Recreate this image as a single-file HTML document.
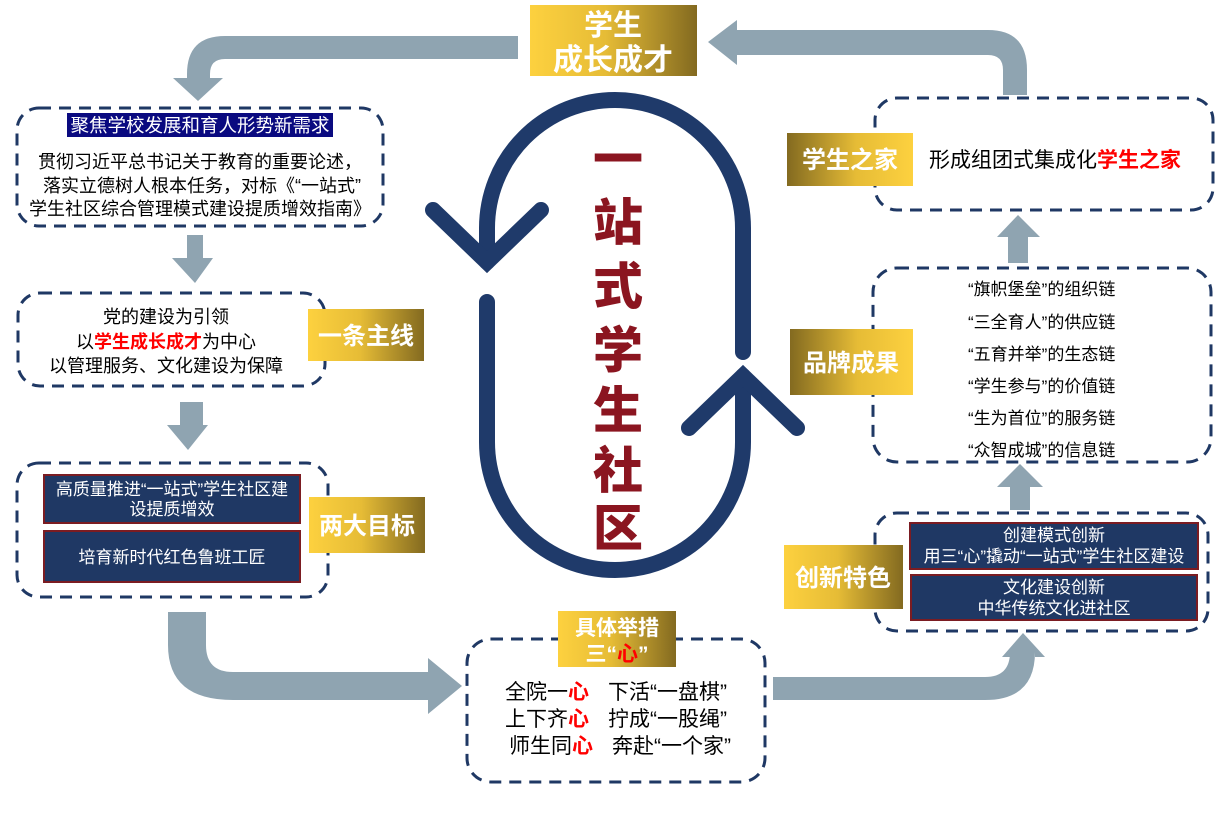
<!DOCTYPE html>
<html><head><meta charset="utf-8"><style>
html,body{margin:0;padding:0;background:#fff;}
svg{display:block;}
text{font-family:"Liberation Sans","Noto Sans CJK SC",sans-serif;}
.b{font-weight:bold;}
</style></head><body>
<svg width="1228" height="823" viewBox="0 0 1228 823" xmlns="http://www.w3.org/2000/svg">
<defs>
<linearGradient id="gl" x1="0" x2="1" y1="0" y2="0"><stop offset="0" stop-color="#fdd13f"/><stop offset="0.45" stop-color="#e6bc36"/><stop offset="1" stop-color="#836a20"/></linearGradient>
<linearGradient id="gr" x1="1" x2="0" y1="0" y2="0"><stop offset="0" stop-color="#fdd13f"/><stop offset="0.45" stop-color="#e6bc36"/><stop offset="1" stop-color="#836a20"/></linearGradient>
</defs>
<g fill="#8fa4b1">
<path d="M518 36 L225 36 Q187 36 187 74 L187 78 L173 78 L198 101 L223 78 L210 78 L210 74 Q210 59 225 59 L518 59 Z"/>
<path d="M1003 95 L1003 70 Q1003 55 988 55 L737 55 L737 65 L708 42 L737 20 L737 30 L988 30 Q1027 30 1027 70 L1027 95 Z"/>
<path d="M187 235 L203 235 L203 258 L213 258 L195 283 L172 258 L187 258 Z"/>
<path d="M180 402 L203 402 L203 425 L208 425 L188 450 L167 425 L180 425 Z"/>
<path d="M168 612 L206 612 L206 645 Q206 672 233 672 L428 672 L428 658 L462 686 L428 714 L428 700 L233 700 Q168 700 168 645 Z"/>
<path d="M773 677 L985 677 Q1010 677 1010 652 L1010 657 L1002 657 L1023 633 L1045 657 L1035 657 L1035 652 Q1035 700 985 700 L773 700 Z"/>
<path d="M1008 263 L1028 263 L1028 237 L1040 237 L1018 215 L997 237 L1008 237 Z"/>
<path d="M1010 510 L1030 510 L1030 487 L1043 487 L1020 464 L997 487 L1010 487 Z"/>
</g>
<g fill="none" stroke="#1f3a6a" stroke-width="16" stroke-linecap="round" stroke-linejoin="miter">
<path d="M743 352 L743 228 A128 128 0 0 0 487 228 L487 262"/>
<path d="M433 210 L487 262 L541 210"/>
<path d="M487 302 L487 442 A128 128 0 0 0 743 442 L743 376"/>
<path d="M689 428 L743 376 L797 428"/>
</g>
<g font-family="'Noto Serif CJK SC',serif" font-weight="900" font-size="50" fill="#8b1520" text-anchor="middle">
<text x="618" y="177">一</text><text x="618" y="240">站</text><text x="618" y="304">式</text><text x="618" y="368">学</text><text x="618" y="428">生</text><text x="618" y="488">社</text><text x="618" y="546">区</text>
</g>
<g fill="none" stroke="#1f3864" stroke-width="3" stroke-dasharray="12,8">
<rect x="17" y="108" width="366" height="118" rx="22"/>
<rect x="18" y="293" width="307" height="93" rx="22"/>
<rect x="17" y="463" width="311" height="134" rx="22"/>
<rect x="467" y="639" width="298" height="143" rx="24"/>
<rect x="875" y="513" width="333" height="118" rx="22"/>
<rect x="873" y="268" width="338" height="194" rx="24"/>
<rect x="875" y="98" width="338" height="112" rx="22"/>
</g>
<rect x="530" y="5" width="167" height="71" fill="url(#gl)"/>
<text x="613" y="35" font-size="29" class="b" fill="#fff" text-anchor="middle">学生</text>
<text x="613" y="70" font-size="30" class="b" fill="#fff" text-anchor="middle">成长成才</text>
<rect x="308" y="309" width="116" height="52" fill="url(#gl)"/>
<text x="366" y="344" font-size="24" class="b" fill="#fff" text-anchor="middle">一条主线</text>
<rect x="309" y="497" width="116" height="56" fill="url(#gl)"/>
<text x="367" y="534" font-size="24" class="b" fill="#fff" text-anchor="middle">两大目标</text>
<rect x="558" y="611" width="118" height="56" fill="url(#gl)"/>
<text x="617" y="635" font-size="21" class="b" fill="#fff" text-anchor="middle">具体举措</text>
<text x="617" y="661" font-size="21" class="b" fill="#fff" text-anchor="middle">三“<tspan fill="#ff0000">心</tspan>”</text>
<rect x="784" y="545" width="119" height="64" fill="url(#gl)"/>
<text x="843" y="586" font-size="24" class="b" fill="#fff" text-anchor="middle">创新特色</text>
<rect x="790" y="329" width="123" height="66" fill="url(#gr)"/>
<text x="851" y="371" font-size="24" class="b" fill="#fff" text-anchor="middle">品牌成果</text>
<rect x="787" y="133" width="126" height="53" fill="url(#gr)"/>
<text x="850" y="168" font-size="24" class="b" fill="#fff" text-anchor="middle">学生之家</text>
<rect x="67" y="113" width="266" height="24" fill="#0a0a80"/>
<text x="200" y="132" font-size="18.5" fill="#fff" text-anchor="middle">聚焦学校发展和育人形势新需求</text>
<g font-size="18" fill="#000" text-anchor="middle">
<text x="200" y="168">贯彻习近平总书记关于教育的重要论述，</text>
<text x="202" y="192">落实立德树人根本任务，对标《“一站式”</text>
<text x="200" y="215">学生社区综合管理模式建设提质增效指南》</text>
</g>
<g font-size="18" fill="#000" text-anchor="middle">
<text x="166" y="323">党的建设为引领</text>
<text x="166" y="348">以<tspan fill="#ff0000" font-weight="bold">学生成长成才</tspan>为中心</text>
<text x="166" y="372">以管理服务、文化建设为保障</text>
</g>
<rect x="44" y="475" width="256" height="48" fill="#1f3864" stroke="#7b1c22" stroke-width="2"/>
<rect x="44" y="531" width="256" height="51" fill="#1f3864" stroke="#7b1c22" stroke-width="2"/>
<g font-size="17" fill="#fff" text-anchor="middle">
<text x="172" y="495">高质量推进“一站式”学生社区建</text>
<text x="172" y="515">设提质增效</text>
<text x="172" y="563">培育新时代红色鲁班工匠</text>
</g>
<g font-size="21" fill="#000">
<text x="505" y="699">全院一<tspan fill="#ff0000" font-weight="bold">心</tspan><tspan x="608">下活“一盘棋”</tspan></text>
<text x="505" y="726">上下齐<tspan fill="#ff0000" font-weight="bold">心</tspan><tspan x="608">拧成“一股绳”</tspan></text>
<text x="509" y="753">师生同<tspan fill="#ff0000" font-weight="bold">心</tspan><tspan x="612">奔赴“一个家”</tspan></text>
</g>
<rect x="910" y="523" width="288" height="46" fill="#1f3864" stroke="#7b1c22" stroke-width="2"/>
<rect x="911" y="575" width="286" height="45" fill="#1f3864" stroke="#7b1c22" stroke-width="2"/>
<g font-size="17" fill="#fff" text-anchor="middle">
<text x="1054" y="541">创建模式创新</text>
<text x="1054" y="562">用三“心”撬动“一站式”学生社区建设</text>
<text x="1054" y="593">文化建设创新</text>
<text x="1054" y="614">中华传统文化进社区</text>
</g>
<g font-size="17" fill="#000">
<text x="968" y="295">“旗帜堡垒”的组织链</text>
<text x="968" y="328">“三全育人”的供应链</text>
<text x="968" y="360">“五育并举”的生态链</text>
<text x="968" y="392">“学生参与”的价值链</text>
<text x="968" y="424">“生为首位”的服务链</text>
<text x="968" y="456">“众智成城”的信息链</text>
</g>
<text x="929" y="167" font-size="21" fill="#000">形成组团式集成化<tspan fill="#ff0000" font-weight="bold">学生之家</tspan></text>
</svg>
</body></html>
